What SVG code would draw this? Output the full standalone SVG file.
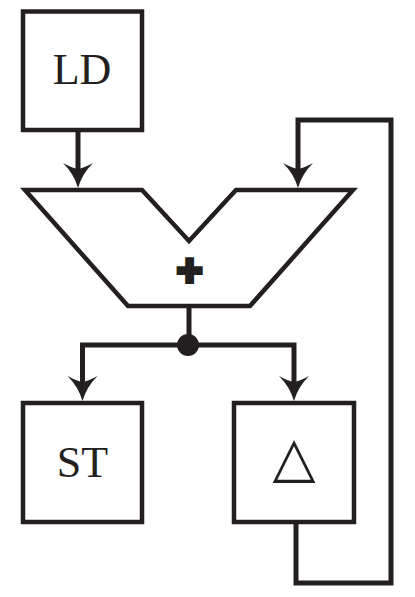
<svg xmlns="http://www.w3.org/2000/svg" width="415" height="597" viewBox="0 0 415 597">
<style>
.box{fill:#fff;stroke:#231f20;stroke-width:4.5}
.line{fill:none;stroke:#231f20;stroke-width:5;stroke-linejoin:miter}
.lbl{font-family:"Liberation Serif","Times New Roman",serif;font-size:44px;fill:#231f20;text-anchor:middle}
</style>
<defs>
<path id="ah" d="M0 0 Q-4 -14 -15 -25 Q-6 -20 0 -19 Q6 -20 15 -25 Q4 -14 0 0 Z" fill="#231f20"/>
</defs>
<rect width="415" height="597" fill="#fff"/>
<g id="connectors">
<path class="line" d="M78 130 V172"/>
<use href="#ah" x="78" y="188"/>
<path class="line" d="M296 522 V583 H391 V120 H298 V172"/>
<use href="#ah" x="298" y="188"/>
<path class="line" d="M189 306 V345"/>
<path class="line" d="M82.5 385 V345 H294 V385"/>
<use href="#ah" x="82.5" y="401"/>
<use href="#ah" x="294" y="401"/>
<circle cx="188" cy="345" r="11" fill="#231f20"/>
</g>
<g id="LD">
<rect class="box" x="23" y="11.5" width="119" height="118.5"/>
<text class="lbl" x="82" y="84">LD</text>
</g>
<g id="adder">
<path class="box" stroke-width="5" d="M25 190 H142 L189 241 L236 190 H353 L250 306 H128 Z"/>
<text x="189.5" y="286" font-family="Liberation Sans,Arial,sans-serif" font-weight="bold" font-size="44" text-anchor="middle" fill="#231f20" stroke="#231f20" stroke-width="4">+</text>
</g>
<g id="ST">
<rect class="box" x="23" y="403" width="119" height="119"/>
<text class="lbl" x="82.5" y="477">ST</text>
</g>
<g id="delta">
<rect class="box" x="234" y="403" width="120" height="119"/>
<text x="294" y="476" font-family="DejaVu Sans,sans-serif" font-size="56" text-anchor="middle" fill="#231f20">△</text>
</g>
</svg>
